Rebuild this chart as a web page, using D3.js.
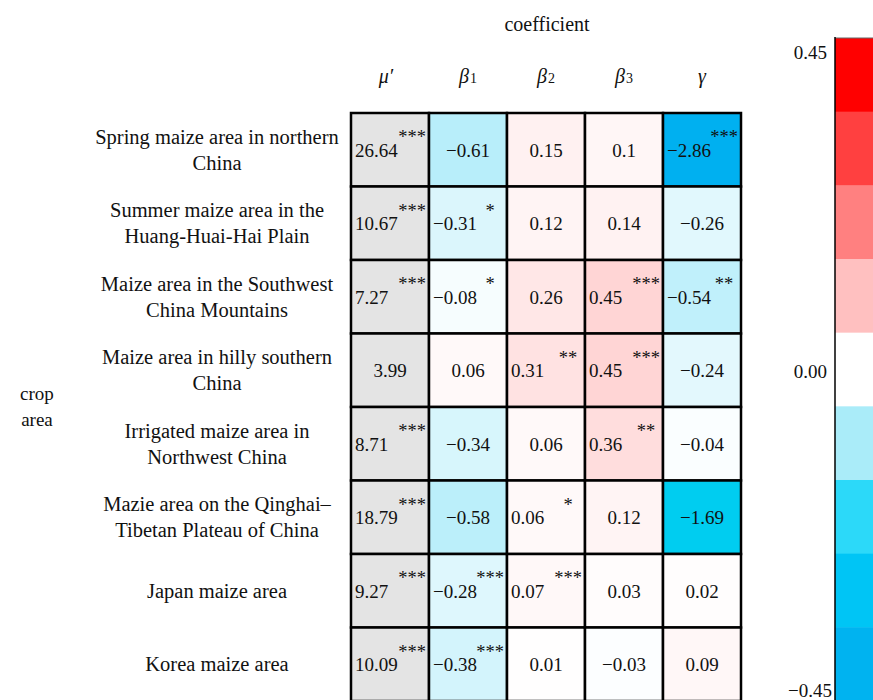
<!DOCTYPE html>
<html>
<head>
<meta charset="utf-8">
<script src="https://cdn.jsdelivr.net/npm/d3@7/dist/d3.min.js"></script>
<style>
  html, body { margin: 0; padding: 0; background: #fff; }
  svg { display: block; font-family: "Liberation Serif", "Times New Roman", serif; }
</style>
</head>
<body>
<svg id="chart" width="873" height="700"></svg>
<script>
// Crop areas (row labels, split into lines)
const regions = [
  "Spring maize area in northern|China",
  "Summer maize area in the|Huang-Huai-Hai Plain",
  "Maize area in the Southwest|China Mountains",
  "Maize area in hilly southern|China",
  "Irrigated maize area in|Northwest China",
  "Mazie area on the Qinghai–|Tibetan Plateau of China",
  "Japan maize area",
  "Korea maize area"
];

// Coefficient columns
const coefKeys = ["mu", "beta1", "beta2", "beta3", "gamma"];

// Estimated coefficients per crop area
const mu    = [26.64, 10.67, 7.27, 3.99, 8.71, 18.79, 9.27, 10.09];
const beta1 = [-0.61, -0.31, -0.08, 0.06, -0.34, -0.58, -0.28, -0.38];
const beta2 = [0.15, 0.12, 0.26, 0.31, 0.06, 0.06, 0.07, 0.01];
const beta3 = [0.1, 0.14, 0.45, 0.45, 0.36, 0.12, 0.03, -0.03];
const gamma = [-2.86, -0.26, -0.54, -0.24, -0.04, -1.69, 0.02, 0.09];

// Significance markers
const muSig    = ["***", "***", "***", "", "***", "***", "***", "***"];
const beta1Sig = ["", "*", "*", "", "", "", "***", "***"];
const beta2Sig = ["", "", "", "**", "", "*", "***", ""];
const beta3Sig = ["", "", "***", "***", "**", "", "", ""];
const gammaSig = ["***", "", "**", "", "", "", "", ""];

// Colour bar levels
const legendTicks = [0.45, 0.00, -0.45];
const legendBands = [0.45, 0.35, 0.25, 0.15, 0.05, -0.05, -0.15, -0.25, -0.35];
const legendColors = ["#ff0000", "#ff4040", "#ff8080", "#ffc0c0", "#ffffff",
                      "#aaecf9", "#2cd9f9", "#00c5f5", "#00b3f0"];

const values = { mu, beta1, beta2, beta3, gamma };
const sigs = { mu: muSig, beta1: beta1Sig, beta2: beta2Sig, beta3: beta3Sig, gamma: gammaSig };

const svg = d3.select("#chart");

const x = d3.scaleBand().domain(coefKeys).range([351, 741]);
const y = d3.scaleBand().domain(d3.range(regions.length)).range([113, 701]);

// Cell fill: diverging blue–white–red
const cellColor = d3.scaleLinear()
  .domain([-2.86, -1.69, -0.61, 0, 0.45])
  .range(["#00b0f0", "#00cdf0", "#b8eefa", "#ffffff", "#ffd5d5"])
  .clamp(true);

const fmt = v => String(v).replace("-", "\u2212");

const cells = [];
coefKeys.forEach(k => {
  values[k].forEach((v, i) => cells.push({ key: k, row: i, value: v, sig: sigs[k][i] }));
});

const g = svg.append("g");

g.selectAll("rect.cell")
  .data(cells)
  .join("rect")
  .attr("class", "cell")
  .attr("x", d => x(d.key))
  .attr("y", d => y(d.row))
  .attr("width", x.bandwidth())
  .attr("height", y.bandwidth())
  .attr("fill", d => d.key === "mu" ? "#e4e4e4" : cellColor(d.value))
  .attr("stroke", "#000")
  .attr("stroke-width", 2.5);

// Values: left-aligned when a marker is present, centred otherwise
g.selectAll("text.val")
  .data(cells)
  .join("text")
  .attr("class", "val")
  .attr("x", d => d.sig ? x(d.key) + 4 : x(d.key) + x.bandwidth() / 2)
  .attr("y", d => y(d.row) + y.bandwidth() / 2 + 7)
  .attr("text-anchor", d => d.sig ? "start" : "middle")
  .attr("font-size", 19)
  .attr("fill", "#111")
  .text(d => fmt(d.value));

g.selectAll("text.sig")
  .data(cells.filter(d => d.sig))
  .join("text")
  .attr("class", "sig")
  .attr("x", d => x(d.key) + 61)
  .attr("y", d => y(d.row) + 30)
  .attr("text-anchor", "middle")
  .attr("font-size", 18.5)
  .attr("fill", "#111")
  .text(d => d.sig);

// Row labels
regions.forEach((r, i) => {
  const lines = r.split("|");
  const cy = y(i) + y.bandwidth() / 2;
  const t = svg.append("text")
    .attr("text-anchor", "middle")
    .attr("font-size", 20.5)
    .attr("fill", "#111");
  lines.forEach((ln, j) => {
    t.append("tspan")
      .attr("x", 217)
      .attr("y", cy + 7 + (j - (lines.length - 1) / 2) * 26)
      .text(ln);
  });
});

// Axis titles
svg.append("text").attr("x", 547).attr("y", 31).attr("text-anchor", "middle")
  .attr("font-size", 20).attr("fill", "#111").text("coefficient");

const yt = svg.append("text").attr("text-anchor", "middle").attr("font-size", 19).attr("fill", "#111");
yt.append("tspan").attr("x", 37).attr("y", 400).text("crop");
yt.append("tspan").attr("x", 37).attr("y", 426).text("area");

// Column headers (italic Greek symbols)
const headers = {
  mu: ["\u03bc\u2032", ""],
  beta1: ["\u03b2", "1"],
  beta2: ["\u03b2", "2"],
  beta3: ["\u03b2", "3"],
  gamma: ["\u03b3", ""]
};
coefKeys.forEach(k => {
  const t = svg.append("text")
    .attr("x", x(k) + x.bandwidth() / 2 - (k === "mu" ? 4 : 0))
    .attr("y", 83)
    .attr("text-anchor", "middle")
    .attr("fill", "#111");
  t.append("tspan").attr("font-style", "italic").attr("font-size", 20).text(headers[k][0]);
  if (headers[k][1]) {
    t.append("tspan").attr("font-size", 14).attr("dx", 1).text(headers[k][1]);
  }
});

// Colour bar
const cb = d3.scaleLinear().domain([0.45, -0.45]).range([38, 701]);
const bandH = (cb(-0.45) - cb(0.45)) / legendBands.length;
svg.selectAll("rect.cb")
  .data(legendBands)
  .join("rect")
  .attr("class", "cb")
  .attr("x", 835)
  .attr("y", (d, i) => cb(0.45) + i * bandH)
  .attr("width", 45)
  .attr("height", bandH + 0.5)
  .attr("fill", (d, i) => legendColors[i]);

svg.append("line").attr("x1", 835).attr("x2", 880).attr("y1", 38).attr("y2", 38)
  .attr("stroke", "#666").attr("stroke-width", 1);
svg.append("line").attr("x1", 835).attr("x2", 835).attr("y1", 37).attr("y2", 701)
  .attr("stroke", "#000").attr("stroke-width", 1.5);

svg.selectAll("text.cbt")
  .data(legendTicks)
  .join("text")
  .attr("class", "cbt")
  .attr("x", d => d < 0 ? 832 : 827)
  .attr("y", d => d > 0 ? cb(d) + 21 : d < 0 ? cb(d) - 4 : cb(d) + 8)
  .attr("text-anchor", "end")
  .attr("font-size", 19)
  .attr("fill", "#111")
  .text(d => fmt(d.toFixed(2)));
</script>
</body>
</html>
